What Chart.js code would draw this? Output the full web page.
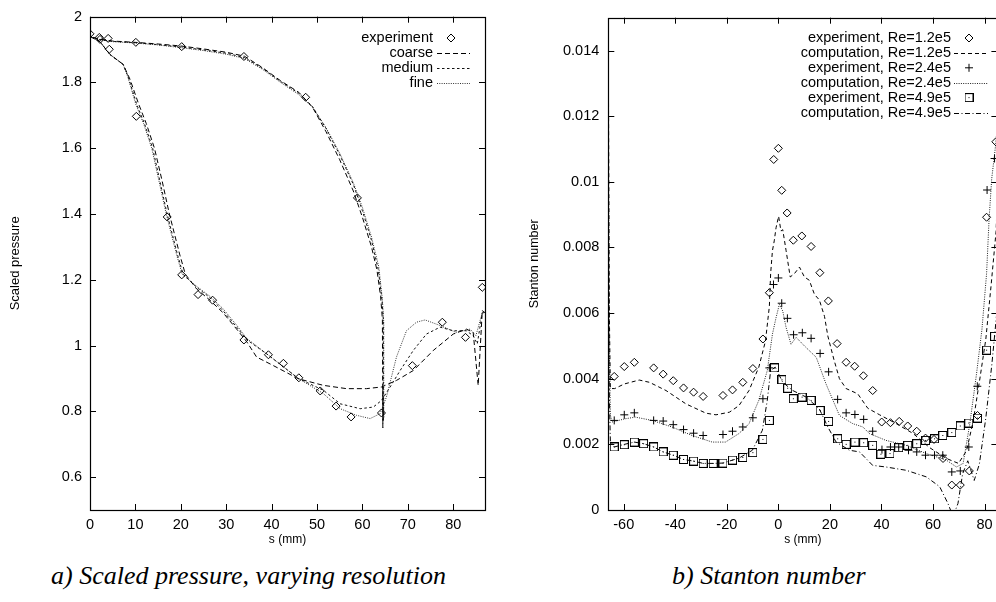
<!DOCTYPE html>
<html><head><meta charset="utf-8">
<script src="https://cdn.jsdelivr.net/npm/chart.js@4.4.0/dist/chart.umd.min.js"></script>
<style>
html,body{margin:0;padding:0;background:#fff;overflow:hidden;width:996px;height:602px;position:relative;}
#wrapA{position:absolute;left:0;top:0;width:490px;height:560px;}
#wrapB{position:absolute;left:500px;top:0;width:510px;height:560px;}
.cap{position:absolute;top:563px;font-family:"Liberation Serif","Times New Roman",serif;font-style:italic;font-size:26px;line-height:26px;white-space:nowrap;color:#000;}
</style></head><body>
<div id="wrapA"><canvas id="cA" width="490" height="560"></canvas></div>
<div id="wrapB"><canvas id="cB" width="510" height="560"></canvas></div>
<div class="cap" style="left:51px">a) Scaled pressure, varying resolution</div>
<div class="cap" style="left:672px">b) Stanton number</div>
<script>
// ---------- Panel a: scaled pressure ----------
const pressTicks = [0.6, 0.8, 1, 1.2, 1.4, 1.6, 1.8, 2];
const sTicksA = [0, 10, 20, 30, 40, 50, 60, 70, 80];
const expS = [0, 2.05, 4.0, 10.1, 20.2, 33.9, 47.5, 58.9, 2.2, 4.25, 10.2, 17.0, 20.2, 23.8, 27.0, 33.9, 39.3, 42.6, 46.0, 50.7, 54.2, 57.5, 64.2, 71.0, 77.6, 82.7, 86.4];
const expP = [1.948, 1.937, 1.934, 1.922, 1.909, 1.879, 1.755, 1.449, 1.931, 1.901, 1.697, 1.391, 1.215, 1.155, 1.138, 1.017, 0.972, 0.946, 0.902, 0.862, 0.816, 0.783, 0.795, 0.939, 1.071, 1.025, 1.177];

const coarseTeS = [64.5, 64.5];
const coarseTeP = [0.874, 0.75];
const coarseUpperS = [0, 2, 5, 10, 15, 20, 25, 30, 34, 38, 42, 46, 49, 52, 55, 58, 60, 62, 63.2, 64.0, 64.4];
const coarseUpperP = [1.94, 1.932, 1.926, 1.922, 1.917, 1.911, 1.902, 1.892, 1.88, 1.845, 1.805, 1.77, 1.725, 1.65, 1.565, 1.47, 1.39, 1.3, 1.23, 1.15, 1.08];
const coarseLowerS = [0, 2.2, 4.4, 7.3, 8.8, 10.7, 12.4, 14.2, 15.9, 17.4, 18.5, 19.8, 21.0, 23.5, 26.4, 29.3, 32.3, 34.5, 36.7, 40.4, 45.9, 51.4, 56.5, 60.9, 64.2, 67.5, 71.2, 75.6, 80, 82.9, 84.4, 85.5, 86.4, 87];
const coarseLowerP = [1.94, 1.924, 1.885, 1.855, 1.81, 1.735, 1.675, 1.6, 1.5, 1.405, 1.345, 1.275, 1.217, 1.172, 1.138, 1.1, 1.05, 1.012, 0.965, 0.939, 0.899, 0.879, 0.869, 0.869, 0.874, 0.894, 0.924, 0.985, 1.035, 1.05, 1.04, 0.879, 1.106, 1.1];

const mediumTeS = [64.6, 64.6];
const mediumTeP = [0.84, 0.77];
const mediumUpperS = [0, 2, 5, 10, 15, 20, 25, 30, 34, 38, 42, 46, 49, 52, 55, 58, 60, 62, 63.5, 64.3, 64.6];
const mediumUpperP = [1.94, 1.931, 1.925, 1.921, 1.915, 1.908, 1.899, 1.889, 1.876, 1.843, 1.803, 1.767, 1.727, 1.66, 1.58, 1.49, 1.41, 1.32, 1.23, 1.14, 1.08];
const mediumLowerS = [0, 2.2, 4.4, 7.3, 8.4, 10.3, 12.0, 13.8, 15.4, 16.9, 18.0, 19.3, 20.5, 23.5, 26.4, 29.3, 32.3, 34.5, 38.9, 45.9, 51.4, 55.1, 59.5, 62.4, 64.2, 66.1, 68.3, 71.2, 74.1, 77.1, 80, 82.9, 84.4, 85.3, 86.4, 87];
const mediumLowerP = [1.94, 1.924, 1.885, 1.855, 1.818, 1.733, 1.675, 1.6, 1.5, 1.405, 1.345, 1.275, 1.217, 1.177, 1.146, 1.106, 1.056, 1.018, 0.975, 0.9, 0.864, 0.823, 0.808, 0.813, 0.833, 0.874, 0.924, 0.985, 1.035, 1.056, 1.045, 1.045, 1.03, 1.005, 1.1, 1.1];

const fineTeS = [64.7, 64.7];
const fineTeP = [0.80, 0.78];
const fineUpperS = [0, 2, 5, 10, 15, 20, 25, 30, 34, 38, 42, 46, 49, 52, 55, 58, 60, 62, 63.6, 64.4, 64.7];
const fineUpperP = [1.94, 1.93, 1.924, 1.92, 1.914, 1.906, 1.897, 1.886, 1.873, 1.84, 1.8, 1.763, 1.725, 1.662, 1.585, 1.495, 1.42, 1.33, 1.24, 1.14, 1.07];
const fineLowerS = [0, 2.2, 4.4, 7.3, 8.3, 10.1, 11.8, 13.6, 15.2, 16.7, 17.8, 19.1, 20.3, 23.5, 26.4, 29.3, 32.3, 34.5, 38.9, 45.9, 51.4, 55.1, 58.7, 61.7, 63.9, 65.3, 67.5, 69.7, 71.9, 73.8, 77.1, 80.7, 83.7, 85, 86.4, 87];
const fineLowerP = [1.94, 1.924, 1.885, 1.855, 1.818, 1.733, 1.675, 1.6, 1.5, 1.405, 1.345, 1.275, 1.217, 1.18, 1.15, 1.112, 1.062, 1.022, 0.975, 0.9, 0.854, 0.808, 0.788, 0.778, 0.793, 0.844, 0.965, 1.045, 1.071, 1.078, 1.061, 1.04, 1.05, 1.03, 1.1, 1.1];

// ---------- Panel b: Stanton number ----------
const stTicks = [0, 0.002, 0.004, 0.006, 0.008, 0.01, 0.012, 0.014];
const sTicksB = [-60, -40, -20, 0, 20, 40, 60, 80];
const re12S = [-63.7, -59.8, -55.9, -48.4, -44.7, -40.8, -36.8, -32.9, -29.2, -21.5, -17.8, -13.8, -9.9, -6.0, -3.5, -1.8, 0.0, 1.3, 3.4, 5.8, 9.1, 12.7, 16.1, 19.4, 22.8, 26.3, 29.6, 33.0, 36.6, 40.1, 43.5, 46.9, 50.2, 53.7, 57.1, 60.4, 63.9, 67.3, 70.6, 74.1, 77.3, 80.8, 84.4];
const re12St = [0.00407, 0.00437, 0.0045, 0.00433, 0.00414, 0.00394, 0.00372, 0.00359, 0.00346, 0.00349, 0.00366, 0.00389, 0.00431, 0.00521, 0.00662, 0.01068, 0.01102, 0.00974, 0.00905, 0.00822, 0.00835, 0.00803, 0.00723, 0.00637, 0.00507, 0.0045, 0.00438, 0.00409, 0.00364, 0.00268, 0.00266, 0.0027, 0.00256, 0.0024, 0.00219, 0.00215, 0.00157, 0.00076, 0.00076, 0.00119, 0.00288, 0.00892, 0.01122];
const re24S = [-63.7, -59.8, -55.9, -48.4, -44.7, -40.8, -36.8, -32.9, -29.2, -21.5, -17.8, -13.8, -9.9, -6.0, -3.5, -1.9, 0, 1.3, 3.5, 5.9, 9.3, 12.7, 16.2, 19.5, 23.0, 26.3, 29.7, 33.1, 36.6, 40.2, 43.5, 46.7, 50.5, 53.7, 57.1, 60.6, 63.8, 67.3, 70.6, 73.9, 77.2, 81.0, 83.9];
const re24St = [0.00273, 0.0029, 0.00296, 0.00273, 0.00271, 0.0026, 0.00245, 0.00234, 0.00227, 0.0023, 0.0024, 0.00253, 0.00281, 0.00339, 0.00433, 0.00687, 0.00707, 0.0063, 0.00584, 0.00534, 0.0054, 0.00523, 0.00477, 0.00421, 0.00337, 0.00296, 0.00291, 0.00276, 0.0024, 0.00184, 0.00192, 0.00192, 0.00182, 0.00177, 0.00167, 0.00167, 0.00167, 0.00116, 0.00119, 0.00192, 0.00377, 0.00975, 0.01071];
const re49S = [-63.7, -59.8, -55.9, -52.3, -48.4, -44.7, -40.8, -36.8, -32.9, -29.2, -25.3, -21.5, -17.8, -13.8, -9.9, -6.0, -3.5, -1.5, 1.4, 3.6, 5.8, 9.2, 12.7, 16.2, 19.5, 23.0, 26.3, 29.7, 33.1, 36.6, 39.8, 43.3, 46.7, 50.2, 53.7, 57.1, 60.6, 63.8, 67.3, 70.6, 73.9, 77.3, 80.8, 83.9];
const re49St = [0.00192, 0.00199, 0.00207, 0.00202, 0.00192, 0.00177, 0.00167, 0.00154, 0.00149, 0.00142, 0.00142, 0.00143, 0.00152, 0.0016, 0.00175, 0.00215, 0.00273, 0.00433, 0.00397, 0.00371, 0.00339, 0.00344, 0.00334, 0.00303, 0.0027, 0.00217, 0.002, 0.00207, 0.00205, 0.00197, 0.0017, 0.00172, 0.0019, 0.00197, 0.00202, 0.00212, 0.00217, 0.00227, 0.00236, 0.00256, 0.00265, 0.0028, 0.00487, 0.00529];

const c12S = [-66, -65.6, -65.2, -63.5, -59.8, -54, -50, -43.6, -35.8, -28.1, -24.2, -19, -15.3, -11.4, -7.6, -5, -3.5, -3.0, -2.3, -1.6, -0.9, 0.1, 1.0, 1.7, 3.0, 4.6, 6.2, 8.2, 10.1, 12.0, 14.0, 15.9, 17.9, 19.2, 21.5, 23.7, 26.3, 30.8, 34.7, 39.3, 45.8, 52.3, 58.7, 65.2, 69.9, 73, 75.6, 78, 80.5, 82.5, 84.5, 86];
const c12St = [0.0141, 0.006, 0.0037, 0.0037, 0.00384, 0.00396, 0.00389, 0.00364, 0.00323, 0.00295, 0.0029, 0.00298, 0.00318, 0.00364, 0.00435, 0.00515, 0.0062, 0.0072, 0.0079, 0.0082, 0.0086, 0.00895, 0.0085, 0.00854, 0.0079, 0.0071, 0.0072, 0.0074, 0.0071, 0.0070, 0.00657, 0.0064, 0.0059, 0.0053, 0.0046, 0.0040, 0.0037, 0.00354, 0.0031, 0.0029, 0.00263, 0.00233, 0.0019, 0.00157, 0.00142, 0.0018, 0.0027, 0.0039, 0.0052, 0.0068, 0.0085, 0.012];
const c24S = [-66, -65.6, -65.2, -64.6, -59.4, -55.5, -49, -41.3, -33.5, -25.7, -20.5, -15.3, -11.4, -7.6, -4.3, -2.3, -0.9, 0.4, 1.7, 3.0, 4.9, 6.9, 10.1, 14.7, 18.5, 23.7, 28.9, 32.8, 35.3, 41.8, 49.6, 57.4, 65.2, 69.1, 71.7, 74.3, 76.9, 79, 80.8, 81.8, 82.8, 84.1, 86];
const c24St = [0.0115, 0.005, 0.0029, 0.00268, 0.00278, 0.00283, 0.00273, 0.00253, 0.00227, 0.00207, 0.00207, 0.00233, 0.00263, 0.00334, 0.00425, 0.00536, 0.00586, 0.00627, 0.00606, 0.00556, 0.00505, 0.00526, 0.005, 0.00465, 0.00384, 0.00288, 0.00263, 0.00253, 0.00233, 0.00212, 0.00197, 0.00172, 0.00152, 0.00131, 0.00142, 0.00263, 0.00415, 0.0055, 0.0072, 0.0089, 0.0101, 0.01097, 0.0125];
const c49S = [-66, -65.6, -65.2, -63.7, -59.8, -55.9, -52.3, -48.4, -44.7, -40.8, -36.8, -32.9, -29.2, -25.3, -21.5, -17.8, -15.3, -10.1, -6.2, -4.3, -3.0, -1.2, 1.7, 5.6, 10.8, 15.9, 19.2, 22.4, 27.6, 31.5, 36.6, 41.8, 49.6, 57.4, 62.6, 65.8, 67.8, 69.7, 71.5, 73.5, 76, 78, 80.5, 82.8, 85];
const c49St = [0.0066, 0.0035, 0.0021, 0.00192, 0.002, 0.00207, 0.00202, 0.00192, 0.00177, 0.00167, 0.00154, 0.00149, 0.00142, 0.00142, 0.00143, 0.00152, 0.00158, 0.00182, 0.00243, 0.00334, 0.00425, 0.00435, 0.00389, 0.00364, 0.00344, 0.00308, 0.00253, 0.00207, 0.00182, 0.00177, 0.00136, 0.00131, 0.00121, 0.00101, 0.00071, 0.0002, -0.0002, 0.0002, 0.0011, 0.0015, 0.0009, 0.0014, 0.0028, 0.0044, 0.0062];

// ---------- helpers ----------
const pts = (xs, ys) => xs.map((x, i) => ({x: x, y: ys[i]}));
const loop = (teS, teP, upS, upP, loS, loP) =>
  pts(teS, teP).concat(pts(upS, upP).reverse(), pts(loS, loP));

Chart.defaults.font.family = "'Liberation Sans', Arial, sans-serif";
Chart.defaults.color = '#000';

function squareDot() {
  const c = document.createElement('canvas');
  c.width = 9; c.height = 9;
  const g = c.getContext('2d');
  g.strokeStyle = '#000'; g.lineWidth = 1;
  g.strokeRect(0.5, 0.5, 8, 8);
  g.fillStyle = '#000'; g.fillRect(4, 4, 1, 1);
  return c;
}
const sqImg = squareDot();

const frameTicks = {
  id: 'frameTicks',
  afterDatasetsDraw(chart, args, o) {
    const {ctx, chartArea: a, scales: {x, y}} = chart;
    const L = o.len || 6;
    ctx.save();
    ctx.strokeStyle = '#000'; ctx.lineWidth = 1; ctx.setLineDash([]);
    ctx.beginPath();
    x.ticks.forEach(t => {
      const p = Math.round(x.getPixelForValue(t.value)) + 0.5;
      ctx.moveTo(p, a.bottom); ctx.lineTo(p, a.bottom - L);
      ctx.moveTo(p, a.top); ctx.lineTo(p, a.top + L);
    });
    y.ticks.forEach(t => {
      const p = Math.round(y.getPixelForValue(t.value)) + 0.5;
      ctx.moveTo(a.left, p); ctx.lineTo(a.left + L, p);
      ctx.moveTo(a.right, p); ctx.lineTo(a.right - L, p);
    });
    ctx.stroke();
    ctx.lineWidth = 1.2;
    ctx.strokeRect(Math.round(a.left) + 0.5, Math.round(a.top) + 0.5, Math.round(a.right - a.left), Math.round(a.bottom - a.top));
    ctx.restore();
  }
};

const keyBox = {
  id: 'keyBox',
  afterDraw(chart, args, o) {
    const ctx = chart.ctx;
    ctx.save();
    ctx.font = o.font;
    ctx.textAlign = 'right'; ctx.textBaseline = 'middle';
    o.items.forEach((it, i) => {
      const y = o.y0 + i * o.dy;
      const ds = chart.data.datasets[it.ds];
      ctx.fillStyle = '#000';
      ctx.fillText(ds.label, o.textRight, y);
      if (ds.showLine) {
        ctx.strokeStyle = ds.borderColor; ctx.lineWidth = ds.borderWidth;
        ctx.setLineDash(ds.borderDash || []);
        ctx.beginPath();
        ctx.moveTo(o.l0, Math.round(y) + 0.5); ctx.lineTo(o.l1, Math.round(y) + 0.5);
        ctx.stroke();
        ctx.setLineDash([]);
      } else {
        ctx.strokeStyle = '#000'; ctx.fillStyle = 'rgba(0,0,0,0)'; ctx.lineWidth = 1;
        Chart.helpers.drawPoint(ctx, {pointStyle: ds.pointStyle, radius: ds.pointRadius, rotation: 0, borderWidth: 1}, o.mx, y);
      }
    });
    ctx.restore();
  }
};

const none = 'rgba(0,0,0,0)';
const lineDs = (label, data, dash, color) => ({label, data, showLine: true, pointRadius: 0, borderColor: color || '#000', borderWidth: 1, borderDash: dash, backgroundColor: none, tension: 0});
const markDs = (label, data, style, r) => ({label, data, showLine: false, pointStyle: style, pointRadius: r, pointHoverRadius: r, borderColor: '#000', backgroundColor: none, pointBorderWidth: 1});

// ---------- chart a ----------
new Chart(document.getElementById('cA'), {
  type: 'scatter',
  data: {datasets: [
    markDs('experiment', pts(expS, expP), 'rectRot', 4),
    lineDs('coarse', loop(coarseTeS, coarseTeP, coarseUpperS, coarseUpperP, coarseLowerS, coarseLowerP), [5, 3], '#000'),
    lineDs('medium', loop(mediumTeS, mediumTeP, mediumUpperS, mediumUpperP, mediumLowerS, mediumLowerP), [2.5, 2.5], '#111'),
    lineDs('fine', loop(fineTeS, fineTeP, fineUpperS, fineUpperP, fineLowerS, fineLowerP), [1, 1.3], '#333')
  ]},
  options: {
    responsive: false, animation: false, events: [],
    layout: {padding: {top: 15, right: 5, left: 0, bottom: 10}},
    plugins: {
      legend: {display: false}, tooltip: {enabled: false},
      frameTicks: {len: 6},
      keyBox: {font: "14.5px 'Liberation Sans', Arial, sans-serif", textRight: 433, y0: 38, dy: 15, l0: 437, l1: 470, mx: 451,
               items: [{ds: 0}, {ds: 1}, {ds: 2}, {ds: 3}]}
    },
    scales: {
      x: {type: 'linear', min: 0, max: 87,
          afterBuildTicks: s => { s.ticks = sTicksA.map(v => ({value: v})); },
          afterFit: s => { s.height = 40; },
          grid: {display: false, drawTicks: false}, border: {display: false},
          ticks: {padding: 6, font: {size: 14.5}, maxRotation: 0, autoSkip: false},
          title: {display: true, text: 's (mm)', font: {size: 12}, padding: {top: 0, bottom: 3}}},
      y: {type: 'linear', min: 0.5, max: 2,
          afterBuildTicks: s => { s.ticks = pressTicks.map(v => ({value: v})); },
          afterFit: s => { s.width = 90; },
          grid: {display: false, drawTicks: false}, border: {display: false},
          ticks: {padding: 8, font: {size: 14.5}, callback: v => String(Number(v.toFixed(1)))},
          title: {display: true, text: 'Scaled pressure', font: {size: 13}, padding: {top: 8, bottom: 0}}}
    }
  },
  plugins: [frameTicks, keyBox]
});

// ---------- chart b ----------
new Chart(document.getElementById('cB'), {
  type: 'scatter',
  data: {datasets: [
    markDs('experiment, Re=1.2e5', pts(re12S, re12St), 'rectRot', 4),
    lineDs('computation, Re=1.2e5', pts(c12S, c12St), [4, 3], '#000'),
    markDs('experiment, Re=2.4e5', pts(re24S, re24St), 'cross', 4),
    lineDs('computation, Re=2.4e5', pts(c24S, c24St), [1, 1.3], '#222'),
    markDs('experiment, Re=4.9e5', pts(re49S, re49St), sqImg, 4.5),
    lineDs('computation, Re=4.9e5', pts(c49S, c49St), [5, 2.5, 1, 2.5], '#000')
  ]},
  options: {
    responsive: false, animation: false, events: [],
    layout: {padding: {top: 15, right: 12.6, left: 0, bottom: 10}},
    plugins: {
      legend: {display: false}, tooltip: {enabled: false},
      frameTicks: {len: 6},
      keyBox: {font: "14.5px 'Liberation Sans', Arial, sans-serif", textRight: 451, y0: 38, dy: 14.9, l0: 454, l1: 488, mx: 469,
               items: [{ds: 0}, {ds: 1}, {ds: 2}, {ds: 3}, {ds: 4}, {ds: 5}]}
    },
    scales: {
      x: {type: 'linear', min: -66, max: 85,
          afterBuildTicks: s => { s.ticks = sTicksB.map(v => ({value: v})); },
          afterFit: s => { s.height = 40; },
          grid: {display: false, drawTicks: false}, border: {display: false},
          ticks: {padding: 6, font: {size: 14.5}, maxRotation: 0, autoSkip: false},
          title: {display: true, text: 's (mm)', font: {size: 12}, padding: {top: 0, bottom: 3}}},
      y: {type: 'linear', min: 0, max: 0.015,
          afterBuildTicks: s => { s.ticks = stTicks.map(v => ({value: v})); },
          afterFit: s => { s.width = 108.3; },
          grid: {display: false, drawTicks: false}, border: {display: false},
          ticks: {padding: 9, font: {size: 14.5}, callback: v => String(Number(v.toFixed(3)))},
          title: {display: true, text: 'Stanton number', font: {size: 12.5}, padding: {top: 27.5, bottom: 0}}}
    }
  },
  plugins: [frameTicks, keyBox]
});
</script>
</body></html>
